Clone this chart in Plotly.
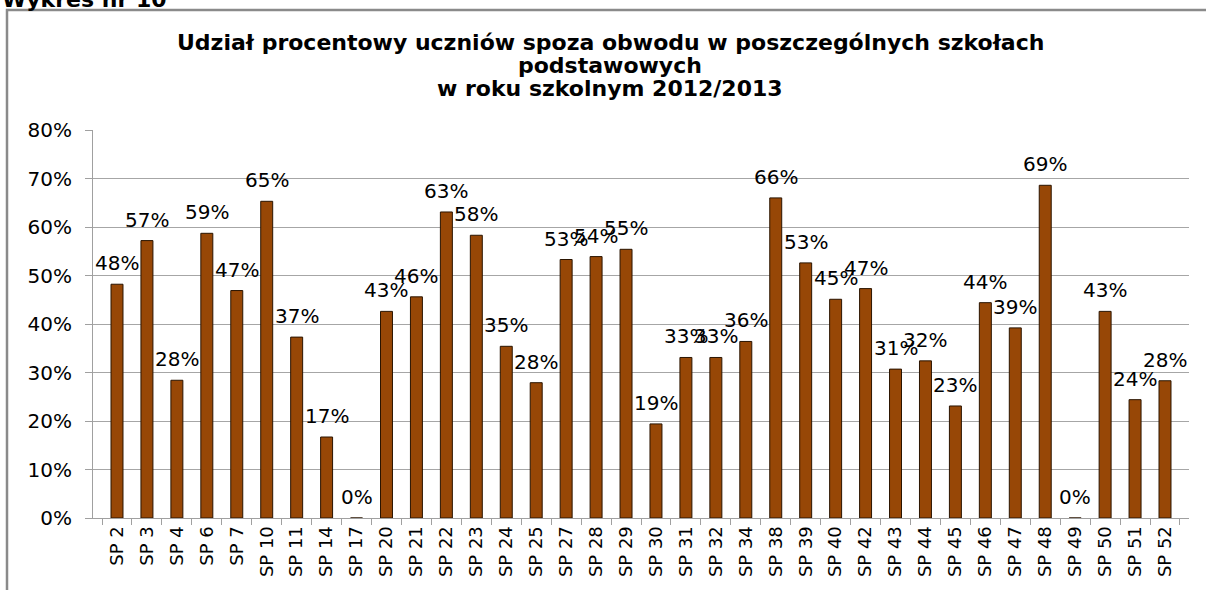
import plotly.graph_objects as go

categories = ["SP 2", "SP 3", "SP 4", "SP 6", "SP 7", "SP 10", "SP 11", "SP 14", "SP 17",
              "SP 20", "SP 21", "SP 22", "SP 23", "SP 24", "SP 25", "SP 27", "SP 28", "SP 29",
              "SP 30", "SP 31", "SP 32", "SP 34", "SP 38", "SP 39", "SP 40", "SP 42", "SP 43",
              "SP 44", "SP 45", "SP 46", "SP 47", "SP 48", "SP 49", "SP 50", "SP 51", "SP 52"]

share_pct = [48.2, 57.2, 28.4, 58.7, 46.9, 65.3, 37.3, 16.7, 0.0,
             42.6, 45.6, 63.1, 58.3, 35.4, 27.9, 53.3, 53.9, 55.4,
             19.4, 33.1, 33.1, 36.4, 66.0, 52.6, 45.1, 47.3, 30.7,
             32.4, 23.1, 44.4, 39.2, 68.6, 0.0, 42.6, 24.4, 28.3]

y_ticks = [0, 10, 20, 30, 40, 50, 60, 70, 80]
y_tick_text = [f"{t}%" for t in y_ticks]

title_lines = ["Udział procentowy uczniów spoza obwodu w poszczególnych szkołach",
               "podstawowych",
               "w roku szkolnym 2012/2013"]
header_text = "Wykres nr 10"

BAR_COLOR = "#974706"
FONT = "DejaVu Sans"

fig = go.Figure()
fig.add_trace(go.Bar(
    x=categories, y=share_pct,
    marker=dict(color=BAR_COLOR, line=dict(color="#2a1400", width=1)),
    hoverinfo="x+y",
))

annotations = []
for c, v in zip(categories, share_pct):
    annotations.append(dict(
        x=c, y=v, xref="x", yref="y", text=f"{round(v)}%",
        showarrow=False, yanchor="middle", xanchor="center", yshift=21,
        font=dict(family=FONT, size=20, color="#000000"),
    ))

# Title lines
title_y_px = [43, 66, 89]
PLOT_LEFT = 93
PLOT_W = 1096
PLOT_BOTTOM = 518
PLOT_H = 388
TITLE_CENTER_PX = 610
for txt, ypx in zip(title_lines, title_y_px):
    annotations.append(dict(
        x=(TITLE_CENTER_PX - PLOT_LEFT) / PLOT_W, xref="paper",
        y=(PLOT_BOTTOM - ypx) / PLOT_H, yref="paper",
        text=f"<b>{txt}</b>", showarrow=False, xanchor="center", yanchor="middle",
        font=dict(family=FONT, size=22, color="#000000"),
    ))

# Header above the chart frame (cut at page top)
annotations.append(dict(
    x=-93 / PLOT_W, xref="paper", y=(PLOT_BOTTOM - 14) / PLOT_H, yref="paper",
    text=f"<b>{header_text}</b>", showarrow=False, xanchor="left", yanchor="bottom",
    font=dict(family=FONT, size=22, color="#000000"),
))

shapes = [dict(
    type="rect", xref="paper", yref="paper",
    x0=(7 - PLOT_LEFT) / PLOT_W, x1=1.2, y0=-0.3, y1=(PLOT_BOTTOM - 10) / PLOT_H,
    line=dict(color="#8a8a8a", width=2.5), fillcolor="rgba(0,0,0,0)", layer="below",
)]

fig.update_layout(
    width=1206, height=590,
    margin=dict(l=93, r=17, t=130, b=72, autoexpand=False),
    paper_bgcolor="white", plot_bgcolor="white",
    bargap=0.6,
    showlegend=False,
    annotations=annotations,
    shapes=shapes,
    font=dict(family=FONT, color="#000000"),
)

fig.update_yaxes(
    range=[0, 80], tickvals=y_ticks, ticktext=y_tick_text,
    showgrid=True, gridcolor="#a6a6a6", gridwidth=1,
    showline=True, linecolor="#a0a0a0", linewidth=1,
    ticks="outside", ticklen=7, tickcolor="#a0a0a0",
    ticklabelstandoff=9,
    tickfont=dict(family=FONT, size=20, color="#000000"),
    zeroline=False, fixedrange=True,
)
fig.update_xaxes(
    type="category", tickangle=-90,
    showline=True, linecolor="#a0a0a0", linewidth=1,
    ticks="outside", ticklen=6, tickcolor="#a0a0a0", tickson="boundaries",
    tickfont=dict(family=FONT, size=18, color="#000000"),
    showgrid=False, fixedrange=True,
)

fig.write_html(
    "out.html",
    config={"displayModeBar": False},
    post_script="document.body.style.margin='0';document.body.style.overflow='hidden';",
)
